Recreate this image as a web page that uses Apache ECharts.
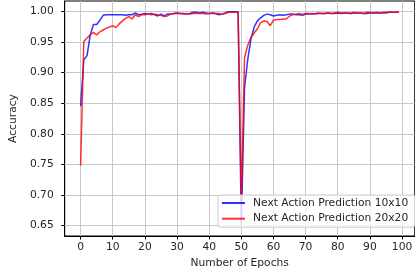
<!DOCTYPE html>
<html>
<head>
<meta charset="utf-8">
<script src="https://cdn.jsdelivr.net/npm/echarts@6/dist/echarts.min.js"></script>
<style>
html,body{margin:0;padding:0;background:#fff;}
#chart{width:415px;height:275px;}
</style>
</head>
<body>
<div id="chart"></div>
<script>
// Series names
var seriesNames = ['Next Action Prediction 10x10', 'Next Action Prediction 20x20'];

// Accuracy per epoch (epochs 0..99)
var acc10x10 = [
  0.845, 0.921, 0.928, 0.962, 0.979, 0.979, 0.986, 0.994, 0.995, 0.995,
  0.995, 0.995, 0.995, 0.995, 0.994, 0.995, 0.995, 0.998, 0.995, 0.996,
  0.997, 0.996, 0.997, 0.995, 0.993, 0.996, 0.993, 0.996, 0.996, 0.997,
  0.998, 0.997, 0.997, 0.996, 0.997, 0.999, 0.999, 0.998, 0.999, 0.998,
  0.997, 0.998, 0.997, 0.995, 0.996, 0.998, 1.000, 1.000, 1.000, 1.000,
  0.650, 0.875, 0.922, 0.955, 0.975, 0.985, 0.990, 0.994, 0.996, 0.995,
  0.993, 0.994, 0.995, 0.994, 0.995, 0.996, 0.996, 0.995, 0.995, 0.994,
  0.996, 0.996, 0.997, 0.996, 0.997, 0.997, 0.997, 0.998, 0.997, 0.997,
  0.998, 0.997, 0.998, 0.998, 0.997, 0.998, 0.998, 0.998, 0.997, 0.997,
  0.998, 0.998, 0.998, 0.998, 0.998, 0.998, 0.999, 0.999, 0.999, 0.999
];
var acc20x20 = [
  0.748, 0.951, 0.957, 0.962, 0.966, 0.962, 0.967, 0.970, 0.973, 0.975,
  0.977, 0.974, 0.980, 0.985, 0.989, 0.992, 0.988, 0.995, 0.992, 0.995,
  0.995, 0.996, 0.995, 0.996, 0.995, 0.994, 0.992, 0.993, 0.996, 0.997,
  0.997, 0.997, 0.996, 0.997, 0.996, 0.997, 0.997, 0.997, 0.997, 0.996,
  0.997, 0.997, 0.997, 0.997, 0.996, 0.997, 0.999, 0.999, 0.999, 0.999,
  0.690, 0.925, 0.945, 0.958, 0.965, 0.972, 0.982, 0.985, 0.984, 0.977,
  0.986, 0.987, 0.987, 0.988, 0.988, 0.993, 0.995, 0.996, 0.997, 0.996,
  0.997, 0.997, 0.996, 0.997, 0.998, 0.997, 0.997, 0.998, 0.997, 0.998,
  0.999, 0.998, 0.998, 0.998, 0.997, 0.999, 0.998, 0.998, 0.997, 0.999,
  0.999, 0.998, 0.999, 0.998, 0.999, 0.999, 0.999, 0.999, 0.999, 1.000
];

// Tick labels
var xTicks = [0, 10, 20, 30, 40, 50, 60, 70, 80, 90, 100];
var yTicks = [0.65, 0.70, 0.75, 0.80, 0.85, 0.90, 0.95, 1.00];

function pairs(vals) { return vals.map(function (v, i) { return [i, v]; }); }

var FONT = 'DejaVu Sans';
var FS = 10.7;
var TXT = '#262626';
var GRIDC = '#c8c8c8';

// gridlines drawn through the axes' own scales at the tick values
var gridLines = xTicks.map(function (v) { return {xAxis: v}; })
  .concat(yTicks.map(function (v) { return {yAxis: v}; }));

var chart = echarts.init(document.getElementById('chart'), null, {renderer: 'canvas'});
chart.setOption({
  animation: false,
  backgroundColor: '#ffffff',
  grid: {left: 58.4, right: -2.7, top: 1, bottom: 39, show: true, borderColor: '#000', borderWidth: 1},
  xAxis: {
    type: 'value', min: -4.95, max: 103.95,
    name: 'Number of Epochs', nameLocation: 'middle', nameGap: 22,
    nameTextStyle: {fontFamily: FONT, fontSize: FS, color: TXT},
    axisLine: {show: true, onZero: false, lineStyle: {color: '#000', width: 1}},
    axisTick: {show: true, length: 3.5, customValues: xTicks, lineStyle: {color: '#000'}},
    axisLabel: {customValues: xTicks, margin: 6, fontFamily: FONT, fontSize: FS, color: TXT},
    splitLine: {show: false}
  },
  yAxis: {
    type: 'value', min: 0.6325, max: 1.0175,
    name: 'Accuracy', nameLocation: 'middle', nameGap: 38,
    nameTextStyle: {fontFamily: FONT, fontSize: FS, color: TXT},
    axisLine: {show: true, onZero: false, lineStyle: {color: '#000', width: 1}},
    axisTick: {show: true, length: 3.5, customValues: yTicks, lineStyle: {color: '#000'}},
    axisLabel: {customValues: yTicks, margin: 11, fontFamily: FONT, fontSize: FS, color: TXT,
      formatter: function (v) { return v.toFixed(2); }},
    splitLine: {show: false}
  },
  legend: {
    orient: 'vertical', left: 218, top: 195, z: 10,
    data: seriesNames,
    itemWidth: 23, itemHeight: 12, itemGap: 4.7,
    padding: [2.5, 7, 3, 3],
    itemStyle: {opacity: 0},
    backgroundColor: 'rgba(255,255,255,0.8)', borderColor: '#cccccc', borderWidth: 1, borderRadius: 3,
    textStyle: {fontFamily: FONT, fontSize: FS, color: TXT, padding: [0, 0, 0, 3]}
  },
  series: [
    {name: 'grid', type: 'line', data: [], z: 1, silent: true,
     markLine: {z: 1, silent: true, symbol: 'none', animation: false, label: {show: false},
       lineStyle: {color: GRIDC, width: 1, type: 'solid'}, emphasis: {disabled: true}, data: gridLines}},
    {name: seriesNames[0], type: 'line', data: pairs(acc10x10), symbol: 'none', showSymbol: false,
     lineStyle: {color: 'rgba(0,0,255,0.8)', width: 1.5}, itemStyle: {color: 'rgba(0,0,255,0.8)'}, z: 2},
    {name: seriesNames[1], type: 'line', data: pairs(acc20x20), symbol: 'none', showSymbol: false,
     lineStyle: {color: 'rgba(255,0,0,0.8)', width: 1.5}, itemStyle: {color: 'rgba(255,0,0,0.8)'}, z: 3}
  ]
});
</script>
</body>
</html>
